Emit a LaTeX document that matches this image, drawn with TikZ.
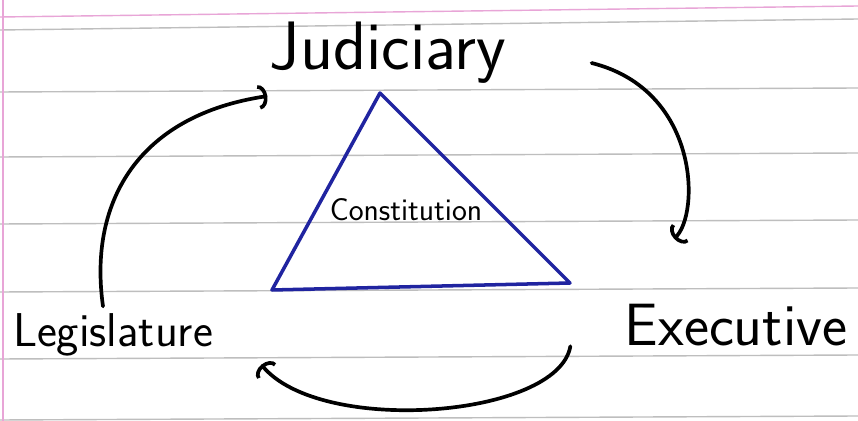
\documentclass[tikz,border=0pt]{standalone}
\usetikzlibrary{arrows.meta,calc}
\definecolor{penblue}{RGB}{32,36,160}
\definecolor{ruleline}{RGB}{190,190,190}
\definecolor{marginpink}{RGB}{232,165,215}
\begin{document}
\begin{tikzpicture}[
    x=0.02cm, y=-0.02cm,
    font=\sffamily,
    word/.style={inner sep=0pt, text=black},
    cycarrow/.style={draw, line width=2.1pt, line cap=round,
                     -{Arc Barb[length=5pt, width=14pt]}},
    paperline/.style={ruleline, line width=0.8pt}
  ]
    \useasboundingbox (0,0) rectangle (858,421);
    \fill[white] (0,0) rectangle (858,421);

    %% --- Paper ---
    \foreach \y in {92,157,224,292,359,420}
      \draw[paperline] (0,\y) -- (858,\y-4);
    \draw[marginpink, line width=0.8pt] (0,17) -- (858,6);
    \draw[paperline] (0,30) -- (858,19);
    \draw[marginpink, line width=1pt] (3,0) -- (3,421);

    %% --- Triangle ---
    \coordinate (tri-top) at (380,93);
    \coordinate (tri-left) at (272,290);
    \coordinate (tri-right) at (570,283);
    \draw[penblue, line width=2pt, line join=round]
      (tri-top) -- (tri-right) -- (tri-left) -- cycle;

    %% --- Labels ---
    \node[word, font=\sffamily\fontsize{39}{44}\selectfont]
      (judiciary) at (388,53) {Judiciary};
    \node[word, font=\sffamily\fontsize{27}{31}\selectfont]
      (legislature) at (113,335) {Legislature};
    \node[word, font=\sffamily\fontsize{34}{38}\selectfont]
      (executive) at (736,325) {Executive};
    \node[word, font=\sffamily\fontsize{18}{22}\selectfont]
      (constitution) at (406,210) {Constitution};

    %% --- Cycle ---
    \draw[cycarrow] ($(legislature.north)+(-10,-7)$)
      .. controls (88,200) and (140,115) .. ($(judiciary.south west)+(-2,12)$);
    \draw[cycarrow] ($(judiciary.east)+(85,10)$)
      .. controls (700,90) and (700,215) .. ($(executive.north)+(-62,-65)$);
    \draw[cycarrow] ($(executive.south west)+(-54,0)$)
      .. controls (558,418) and (320,436) .. ($(legislature.south east)+(48,8)$);
  \end{tikzpicture}
\end{document}
